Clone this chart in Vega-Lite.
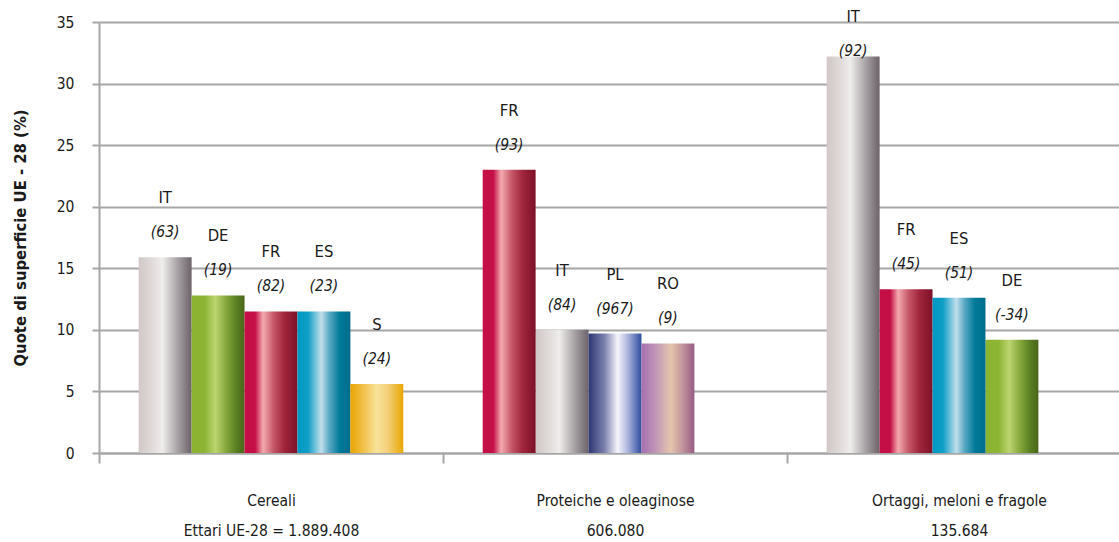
{
  "$schema": "https://vega.github.io/schema/vega-lite/v6.json",
  "autosize": {"type": "none"},
  "padding": {"left": 99, "top": 22, "right": 0, "bottom": 89},
  "width": 1020,
  "height": 431,
  "background": "white",
  "config": {
    "font": "DejaVu Sans Condensed",
    "view": {"stroke": null},
    "axis": {"labelFont": "DejaVu Sans Condensed", "titleFont": "DejaVu Sans Condensed"}
  },
  "data": {
    "values": [
      {"cat": "Cereali|Ettari UE-28 = 1.889.408", "rank": 1, "country": "IT", "chg": "(63)", "v": 15.9},
      {"cat": "Cereali|Ettari UE-28 = 1.889.408", "rank": 2, "country": "DE", "chg": "(19)", "v": 12.8},
      {"cat": "Cereali|Ettari UE-28 = 1.889.408", "rank": 3, "country": "FR", "chg": "(82)", "v": 11.5},
      {"cat": "Cereali|Ettari UE-28 = 1.889.408", "rank": 4, "country": "ES", "chg": "(23)", "v": 11.5},
      {"cat": "Cereali|Ettari UE-28 = 1.889.408", "rank": 5, "country": "S", "chg": "(24)", "v": 5.6},
      {"cat": "Proteiche e oleaginose|606.080", "rank": 1, "country": "FR", "chg": "(93)", "v": 23.0},
      {"cat": "Proteiche e oleaginose|606.080", "rank": 2, "country": "IT", "chg": "(84)", "v": 10.0},
      {"cat": "Proteiche e oleaginose|606.080", "rank": 3, "country": "PL", "chg": "(967)", "v": 9.7},
      {"cat": "Proteiche e oleaginose|606.080", "rank": 4, "country": "RO", "chg": "(9)", "v": 8.9},
      {"cat": "Ortaggi, meloni e fragole|135.684", "rank": 1, "country": "IT", "chg": "(92)", "v": 32.2},
      {"cat": "Ortaggi, meloni e fragole|135.684", "rank": 2, "country": "FR", "chg": "(45)", "v": 13.3},
      {"cat": "Ortaggi, meloni e fragole|135.684", "rank": 3, "country": "ES", "chg": "(51)", "v": 12.6},
      {"cat": "Ortaggi, meloni e fragole|135.684", "rank": 4, "country": "DE", "chg": "(-34)", "v": 9.2}
    ]
  },
  "encoding": {
    "x": {
      "field": "cat", "type": "nominal", "sort": null,
      "scale": {"paddingInner": 0, "paddingOuter": 0, "range": [0, 1032]},
      "axis": {
        "title": null, "labelAngle": 0, "labelExpr": "isValid(datum.value) ? split(datum.value, '|') : ''",
        "labelFontSize": 15.5, "labelColor": "#1a1a1a", "labelLineHeight": 30, "labelPadding": 30,
        "tickBand": "extent", "tickSize": 10, "tickColor": "#a6a6a6", "tickWidth": 2,
        "domainColor": "#a6a6a6", "domainWidth": 2, "grid": false
      }
    },
    "xOffset": {"field": "rank", "type": "ordinal", "scale": {"paddingInner": 0, "paddingOuter": 0.75}},
    "y": {
      "field": "v", "type": "quantitative",
      "scale": {"domain": [0, 35], "nice": false},
      "axis": {
        "title": "Quote di superficie UE - 28 (%)", "titleFontSize": 16.5, "titleFontWeight": 600, "titleColor": "#1a1a1a",
        "titlePadding": 28,
        "values": [0, 5, 10, 15, 20, 25, 30, 35],
        "labelFontSize": 15.5, "labelColor": "#1a1a1a", "labelPadding": 18,
        "grid": true, "gridColor": "#a6a6a6", "gridWidth": 2,
        "domainColor": "#a6a6a6", "domainWidth": 2,
        "tickColor": "#a6a6a6", "tickWidth": 2, "tickSize": 7
      }
    }
  },
  "layer": [
    {
      "transform": [{"filter": "datum.country === 'IT'"}],
      "mark": {"type": "bar", "color": {"gradient": "linear", "x1": 0, "y1": 0, "x2": 1, "y2": 0, "stops": [
        {"offset": 0, "color": "#d1c7c7"}, {"offset": 0.25, "color": "#e0dad9"}, {"offset": 0.45, "color": "#efedec"},
        {"offset": 0.6, "color": "#c9c5c5"}, {"offset": 0.78, "color": "#9d969a"}, {"offset": 1, "color": "#6c6368"}]}}
    },
    {
      "transform": [{"filter": "datum.country === 'DE'"}],
      "mark": {"type": "bar", "color": {"gradient": "linear", "x1": 0, "y1": 0, "x2": 1, "y2": 0, "stops": [
        {"offset": 0, "color": "#8cb332"}, {"offset": 0.25, "color": "#8db534"}, {"offset": 0.45, "color": "#bcd46f"},
        {"offset": 0.65, "color": "#86a83c"}, {"offset": 0.85, "color": "#587e22"}, {"offset": 1, "color": "#4a6618"}]}}
    },
    {
      "transform": [{"filter": "datum.country === 'FR'"}],
      "mark": {"type": "bar", "color": {"gradient": "linear", "x1": 0, "y1": 0, "x2": 1, "y2": 0, "stops": [
        {"offset": 0, "color": "#c30f46"}, {"offset": 0.2, "color": "#c30f46"}, {"offset": 0.35, "color": "#f4aaaf"},
        {"offset": 0.55, "color": "#c55767"}, {"offset": 0.75, "color": "#a1263c"}, {"offset": 1, "color": "#7d1128"}]}}
    },
    {
      "transform": [{"filter": "datum.country === 'ES'"}],
      "mark": {"type": "bar", "color": {"gradient": "linear", "x1": 0, "y1": 0, "x2": 1, "y2": 0, "stops": [
        {"offset": 0, "color": "#0099c3"}, {"offset": 0.2, "color": "#0f9ec6"}, {"offset": 0.45, "color": "#c2dfec"},
        {"offset": 0.6, "color": "#5ba9c4"}, {"offset": 0.8, "color": "#007a98"}, {"offset": 1, "color": "#006d8b"}]}}
    },
    {
      "transform": [{"filter": "datum.country === 'S'"}],
      "mark": {"type": "bar", "color": {"gradient": "linear", "x1": 0, "y1": 0, "x2": 1, "y2": 0, "stops": [
        {"offset": 0, "color": "#e9a400"}, {"offset": 0.25, "color": "#f0c14a"}, {"offset": 0.5, "color": "#f8e39b"},
        {"offset": 0.7, "color": "#f3d07a"}, {"offset": 1, "color": "#e9a703"}]}}
    },
    {
      "transform": [{"filter": "datum.country === 'PL'"}],
      "mark": {"type": "bar", "color": {"gradient": "linear", "x1": 0, "y1": 0, "x2": 1, "y2": 0, "stops": [
        {"offset": 0, "color": "#2c3673"}, {"offset": 0.3, "color": "#7a80ad"}, {"offset": 0.55, "color": "#f6f6fc"},
        {"offset": 0.75, "color": "#a8b2dc"}, {"offset": 1, "color": "#2d4d9f"}]}}
    },
    {
      "transform": [{"filter": "datum.country === 'RO'"}],
      "mark": {"type": "bar", "color": {"gradient": "linear", "x1": 0, "y1": 0, "x2": 1, "y2": 0, "stops": [
        {"offset": 0, "color": "#a56fb0"}, {"offset": 0.3, "color": "#c59bb8"}, {"offset": 0.55, "color": "#e4c5ac"},
        {"offset": 0.75, "color": "#c89b9f"}, {"offset": 1, "color": "#965b83"}]}}
    },
    {
      "mark": {"type": "text", "fontSize": 16.5, "color": "#1a1a1a", "baseline": "middle", "dy": {"expr": "datum.v > 30 ? -39 : -59"}},
      "encoding": {"text": {"field": "country"}}
    },
    {
      "mark": {"type": "text", "fontSize": 15.5, "fontStyle": "italic", "color": "#1a1a1a", "baseline": "middle", "dy": {"expr": "datum.v > 30 ? -5 : -25"}},
      "encoding": {"text": {"field": "chg"}}
    }
  ]
}
